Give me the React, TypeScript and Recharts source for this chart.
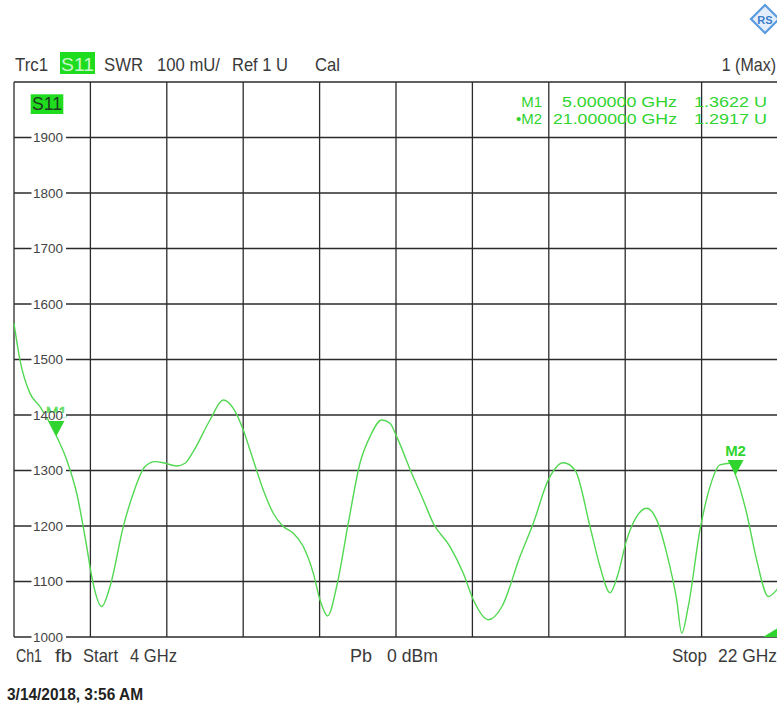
import React from 'react';
import { LineChart, Line, XAxis, YAxis, CartesianGrid, ReferenceDot } from 'recharts';

// trace: frequency (GHz) and SWR (mU)
const FREQ_GHZ = [
  4.0, 4.141, 4.377, 4.613, 5.0, 5.242, 5.477, 5.713, 5.831, 6.066, 6.262, 6.575, 6.811, 7.086,
  7.322, 7.518, 7.833, 8.029, 8.224, 8.618, 8.931, 9.167, 9.402, 9.56, 9.873, 10.109, 10.344,
  10.58, 10.816, 11.051, 11.209, 11.39, 11.602, 11.876, 12.151, 12.387, 12.663, 12.858, 13.016,
  13.369, 13.643, 13.878, 14.272, 14.585, 14.821, 15.174, 15.497, 15.921, 16.235, 16.588, 16.942,
  17.217, 17.571, 17.806, 18.042, 18.237, 18.435, 18.671, 18.906, 19.142, 19.377, 19.613, 19.731,
  19.886, 20.162, 20.398, 20.633, 20.869, 21.0, 21.261, 21.497, 21.77, 21.97, 22.0,
];
const SWR_MU = [
  1565, 1499, 1439, 1415, 1362, 1319, 1259, 1163, 1109, 1055, 1091, 1199, 1259, 1307,
  1316, 1314, 1308, 1313, 1334, 1391, 1427, 1412, 1373, 1337, 1265, 1223, 1199,
  1187, 1163, 1115, 1067, 1038, 1091, 1205, 1313, 1361, 1391, 1385, 1361,
  1295, 1247, 1205, 1163, 1115, 1067, 1031, 1055, 1145, 1205, 1283, 1314,
  1301, 1199, 1127, 1080, 1115, 1175, 1217, 1232, 1211, 1151, 1067, 1007,
  1055, 1193, 1271, 1310, 1313, 1292, 1223, 1139, 1073, 1085, 1088,
];

const X_TICKS = [4, 5.8, 7.6, 9.4, 11.2, 13, 14.8, 16.6, 18.4, 20.2, 22];
const Y_TICKS = [1000, 1100, 1200, 1300, 1400, 1500, 1600, 1700, 1800, 1900, 2000];

const MARKER_NAMES = ['M1', 'M2'];
const MARKER_FREQ = [5, 21];
const MARKER_VALUE = [1362.2, 1291.7];

const data = FREQ_GHZ.map((f, i) => ({ f, v: SWR_MU[i] }));

const TRACE = '#52d852';
const MARK = '#2fd42f';
const TEXT = '#3a3a3a';
const FONT = '"Liberation Sans", Arial, sans-serif';

// label sits on the grid line, which is broken behind the digits
const YTick = (props: any) => {
  const { y, payload } = props;
  if (payload.value === 2000) return <g />;
  return (
    <g>
      <rect x={31.5} y={y - 2} width={34.5} height={4} fill="#fff" />
      <text x={33} y={y + 4.6} fontSize={13} fill="#444" fontFamily={FONT} textLength={30} lengthAdjust="spacingAndGlyphs">
        {payload.value}
      </text>
    </g>
  );
};

const NoTick = () => <g />;

const markerShape = (i: number) => (props: any) => {
  const { cx, cy } = props;
  const active = i === 1;
  return (
    <g>
      <polygon points={`${cx - 8},${cy - 15} ${cx + 8},${cy - 15} ${cx},${cy}`} fill={MARK} />
      <text x={cx} y={cy - 19} textAnchor="middle" fontSize={15} fontWeight={active ? 'bold' : 'normal'}
        fill={active ? MARK : '#a8eca8'} stroke={active ? 'none' : MARK} strokeWidth={0.6} fontFamily={FONT}>
        {MARKER_NAMES[i]}
      </text>
    </g>
  );
};

const cornerShape = (props: any) => {
  const { cx, cy } = props;
  return <polygon points={`${cx - 15},${cy} ${cx},${cy - 9} ${cx},${cy}`} fill={MARK} />;
};

// header/footer text, stretched vertically a bit like the instrument font
const T = ({ x, y, w, children, size = 16, anchor = 'start', fill = TEXT, weight = 'normal', family = FONT, sy = 1.15 }: any) => (
  <text transform={`translate(${x},${y}) scale(1,${sy})`} fontSize={size} fill={fill} fontWeight={weight}
    fontFamily={family} textAnchor={anchor} textLength={w} lengthAdjust="spacingAndGlyphs">
    {children}
  </text>
);

export default function App() {
  return (
    <div style={{ position: 'absolute', left: 0, top: 0, width: 777, height: 707, overflow: 'hidden', background: '#fff' }}>
      <div style={{ position: 'absolute', left: 0, top: 0 }}>
        <LineChart width={800} height={650} data={data} margin={{ top: 82, right: 22, left: 13, bottom: 13 }}>
          <CartesianGrid stroke="#2b2b2b" strokeWidth={1.3} />
          <XAxis dataKey="f" type="number" domain={[4, 22]} ticks={X_TICKS} interval={0} height={0}
            tick={<NoTick />} axisLine={false} tickLine={false} />
          <YAxis type="number" domain={[1000, 2000]} ticks={Y_TICKS} interval={0} width={1}
            tick={<YTick />} axisLine={false} tickLine={false} />
          <Line dataKey="v" type="monotone" stroke={TRACE} strokeWidth={1.4} dot={false} isAnimationActive={false} />
          {MARKER_NAMES.map((n, i) => (
            <ReferenceDot key={n} x={MARKER_FREQ[i]} y={MARKER_VALUE[i]} shape={markerShape(i)} />
          ))}
          <ReferenceDot x={22} y={1000} shape={cornerShape} />
        </LineChart>
      </div>
      <svg width={777} height={707} style={{ position: 'absolute', left: 0, top: 0, pointerEvents: 'none' }}>
        {/* R&S logo */}
        <g>
          <polygon points="765,5 779,19 765,33 751,19" fill="#e3eefa" stroke="#5a9ade" strokeWidth={2.2} />
          <text x={765} y={23.5} textAnchor="middle" fontSize={11} fontWeight="bold" fill="#3d7fcc" fontFamily={FONT}>RS</text>
        </g>
        {/* header */}
        <T x={15} y={71} w={33}>Trc1</T>
        <rect x={60} y={52} width={35} height={22} fill="#1fdc1f" />
        <T x={61} y={71} w={33} fill="#c9f6c9">S11</T>
        <T x={104} y={71} w={39}>SWR</T>
        <T x={157} y={71} w={63}>100 mU/</T>
        <T x={232} y={71} w={56}>Ref 1 U</T>
        <T x={315} y={71} w={25}>Cal</T>
        <T x={776} y={71} anchor="end">1 (Max)</T>
        {/* trace label in the grid */}
        <rect x={30.7} y={94.3} width={32.6} height={19.7} fill="#1fdc1f" />
        <T x={32} y={110} w={30} fill="#1e3d1e" sy={1.1}>S11</T>
        {/* marker readout */}
        <T x={542} y={107} anchor="end" size={15} fill={MARK} sy={1}>M1</T>
        <T x={677} y={107} anchor="end" size={15} fill={MARK} w={115} sy={1}>5.000000 GHz</T>
        <T x={767} y={107} anchor="end" size={15} fill={MARK} w={73} sy={1}>1.3622 U</T>
        <T x={542} y={124} anchor="end" size={15} fill={MARK} sy={1}>•M2</T>
        <T x={677} y={124} anchor="end" size={15} fill={MARK} w={124} sy={1}>21.000000 GHz</T>
        <T x={767} y={124} anchor="end" size={15} fill={MARK} w={73} sy={1}>1.2917 U</T>
        {/* footer */}
        <T x={16} y={662} w={26}>Ch1</T>
        <T x={55} y={662} w={17}>fb</T>
        <T x={83} y={662} w={35}>Start</T>
        <T x={130} y={662} w={47}>4 GHz</T>
        <T x={350} y={662} w={22}>Pb</T>
        <T x={387} y={662} w={51}>0 dBm</T>
        <T x={672} y={662} w={35}>Stop</T>
        <T x={718} y={662} w={59}>22 GHz</T>
        <T x={7} y={700} w={136} size={14} weight="bold" fill="#222" sy={1.2}>
          3/14/2018, 3:56 AM
        </T>
      </svg>
    </div>
  );
}
